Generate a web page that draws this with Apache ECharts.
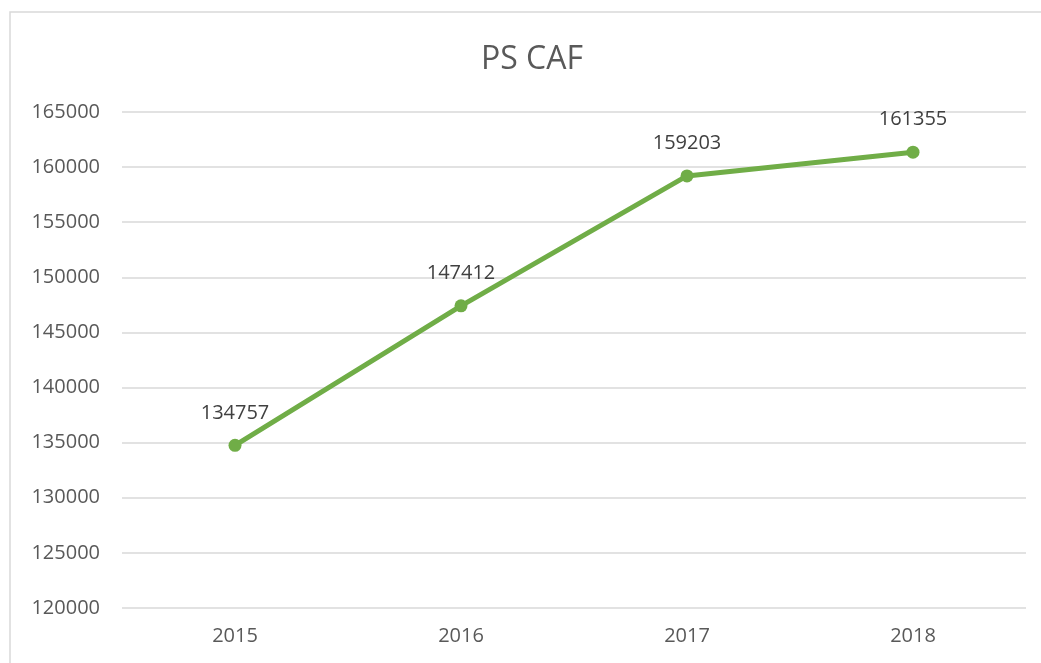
<!DOCTYPE html>
<html>
<head>
<meta charset="utf-8">
<script src="https://cdn.jsdelivr.net/npm/echarts@6/dist/echarts.min.js"></script>
<style>
  html, body { margin: 0; padding: 0; background: #fff; }
  #main { width: 1041px; height: 663px; }
</style>
</head>
<body>
<div id="main"></div>
<script>
var years = ['2015', '2016', '2017', '2018']
var values = [134757, 147412, 159203, 161355]

var font = 'Open Sans'
var myChart = echarts.init(document.getElementById('main'))

var option = {
  animation: false,
  title: {
    text: 'PS CAF',
    left: 476,
    top: 39,
    textStyle: { fontFamily: font, fontSize: 32, fontWeight: 'normal', color: '#595959' }
  },
  graphic: [{ // chart frame
    type: 'rect',
    shape: { x: 10, y: 12, width: 1040, height: 660 },
    style: { fill: 'none', stroke: '#d9d9d9', lineWidth: 1.5 },
    silent: true
  }],
  grid: { left: 122, right: 15, top: 112, bottom: 55 },
  xAxis: {
    type: 'category',
    data: years,
    boundaryGap: true,
    axisLine: { show: false },
    axisTick: { show: false },
    axisLabel: { color: '#595959', fontFamily: font, fontSize: 20, margin: 18 }
  },
  yAxis: {
    type: 'value',
    min: 120000,
    max: 165000,
    interval: 5000,
    axisLine: { show: false },
    axisTick: { show: false },
    splitLine: { lineStyle: { color: '#d9d9d9', width: 1.5 } },
    axisLabel: {
      color: '#595959', fontFamily: font, fontSize: 20, margin: 22,
      formatter: function (v) { return String(v) }
    }
  },
  series: [{
    name: 'PS CAF',
    type: 'line',
    data: values,
    symbol: 'circle',
    symbolSize: 13,
    lineStyle: { color: '#70ad47', width: 5 },
    itemStyle: { color: '#70ad47' },
    label: {
      show: true,
      position: 'top',
      distance: 16,
      color: '#404040',
      fontFamily: font,
      fontSize: 20
    }
  }]
}

myChart.setOption(option)
</script>
</body>
</html>
